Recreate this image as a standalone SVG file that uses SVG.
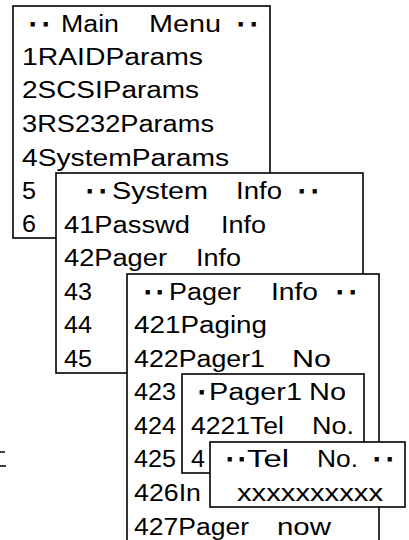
<svg xmlns="http://www.w3.org/2000/svg" width="409" height="540" viewBox="0 0 409 540">
<style>
.box{fill:#fff;stroke:#000;stroke-width:1.6}
.edge{fill:none;stroke:#000;stroke-width:1.6}
text{font-family:"Liberation Sans",Arial,sans-serif;font-size:23px;fill:#000}
.dot{font-weight:bold;stroke:#000;stroke-width:0.9}
</style>
<rect width="409" height="540" fill="#fff"/>
<g id="main-menu">
<rect class="box" x="13" y="6" width="257" height="232"/>
<text y="32"><tspan class="dot" x="29.5 42.5">··</tspan><tspan x="61" textLength="58" lengthAdjust="spacingAndGlyphs">Main</tspan><tspan x="149" textLength="72" lengthAdjust="spacingAndGlyphs">Menu</tspan><tspan class="dot" x="237.5 250.5">··</tspan></text>
<text x="22" y="65" textLength="181" lengthAdjust="spacingAndGlyphs">1RAIDParams</text>
<text x="22" y="98" textLength="177" lengthAdjust="spacingAndGlyphs">2SCSIParams</text>
<text x="22" y="132" textLength="192" lengthAdjust="spacingAndGlyphs">3RS232Params</text>
<text x="22" y="166" textLength="207" lengthAdjust="spacingAndGlyphs">4SystemParams</text>
<text x="22" y="199" textLength="14" lengthAdjust="spacingAndGlyphs">5</text>
<text x="22" y="232" textLength="14" lengthAdjust="spacingAndGlyphs">6</text>
</g>
<g id="system-info">
<rect class="box" x="56" y="173" width="307" height="200"/>
<text y="199"><tspan class="dot" x="86.5 99.5">··</tspan><tspan x="112" textLength="96" lengthAdjust="spacingAndGlyphs">System</tspan><tspan x="236" textLength="46" lengthAdjust="spacingAndGlyphs">Info</tspan><tspan class="dot" x="298.5 311.5">··</tspan></text>
<text y="233"><tspan x="64" textLength="126" lengthAdjust="spacingAndGlyphs">41Passwd</tspan><tspan x="221" textLength="45" lengthAdjust="spacingAndGlyphs">Info</tspan></text>
<text y="266"><tspan x="64" textLength="103" lengthAdjust="spacingAndGlyphs">42Pager</tspan><tspan x="196" textLength="45" lengthAdjust="spacingAndGlyphs">Info</tspan></text>
<text x="64" y="300" textLength="28" lengthAdjust="spacingAndGlyphs">43</text>
<text x="64" y="333" textLength="28" lengthAdjust="spacingAndGlyphs">44</text>
<text x="64" y="367" textLength="28" lengthAdjust="spacingAndGlyphs">45</text>
</g>
<g id="pager-info">
<rect class="box" x="127" y="274" width="252" height="280"/>
<text y="300"><tspan class="dot" x="144.5 156.5">··</tspan><tspan x="169" textLength="72" lengthAdjust="spacingAndGlyphs">Pager</tspan><tspan x="271" textLength="47" lengthAdjust="spacingAndGlyphs">Info</tspan><tspan class="dot" x="336.5 349.5">··</tspan></text>
<text x="134" y="333" textLength="133" lengthAdjust="spacingAndGlyphs">421Paging</text>
<text y="367"><tspan x="134" textLength="131" lengthAdjust="spacingAndGlyphs">422Pager1</tspan><tspan x="292" textLength="39" lengthAdjust="spacingAndGlyphs">No</tspan></text>
<text x="134" y="400" textLength="42" lengthAdjust="spacingAndGlyphs">423</text>
<text x="134" y="434" textLength="42" lengthAdjust="spacingAndGlyphs">424</text>
<text x="134" y="467" textLength="42" lengthAdjust="spacingAndGlyphs">425</text>
<text x="134" y="501" textLength="67" lengthAdjust="spacingAndGlyphs">426In</text>
<text y="535"><tspan x="134" textLength="115" lengthAdjust="spacingAndGlyphs">427Pager</tspan><tspan x="277" textLength="54" lengthAdjust="spacingAndGlyphs">now</tspan></text>
</g>
<g id="pager1-no">
<rect class="box" x="182" y="374" width="182" height="99"/>
<text y="400"><tspan class="dot" x="198.5">·</tspan><tspan x="209" textLength="93" lengthAdjust="spacingAndGlyphs">Pager1</tspan><tspan x="309" textLength="37" lengthAdjust="spacingAndGlyphs">No</tspan></text>
<text y="434"><tspan x="191" textLength="93" lengthAdjust="spacingAndGlyphs">4221Tel</tspan><tspan x="312" textLength="42" lengthAdjust="spacingAndGlyphs">No.</tspan></text>
<text x="191" y="467" textLength="14" lengthAdjust="spacingAndGlyphs">4</text>
</g>
<g id="tel-no">
<rect class="box" x="210" y="442" width="195" height="65"/>
<text y="467"><tspan class="dot" x="226.5 238.5">··</tspan><tspan x="247" textLength="42" lengthAdjust="spacingAndGlyphs">Tel</tspan><tspan x="317" textLength="41" lengthAdjust="spacingAndGlyphs">No.</tspan><tspan class="dot" x="373.5 386.5">··</tspan></text>
<text x="237" y="501" textLength="146" lengthAdjust="spacingAndGlyphs">xxxxxxxxxx</text>
</g>
<g id="connectors"></g>
<g id="margin-mark">
<path class="edge" d="M0 452H5M0 466H6"/>
</g>
</svg>
